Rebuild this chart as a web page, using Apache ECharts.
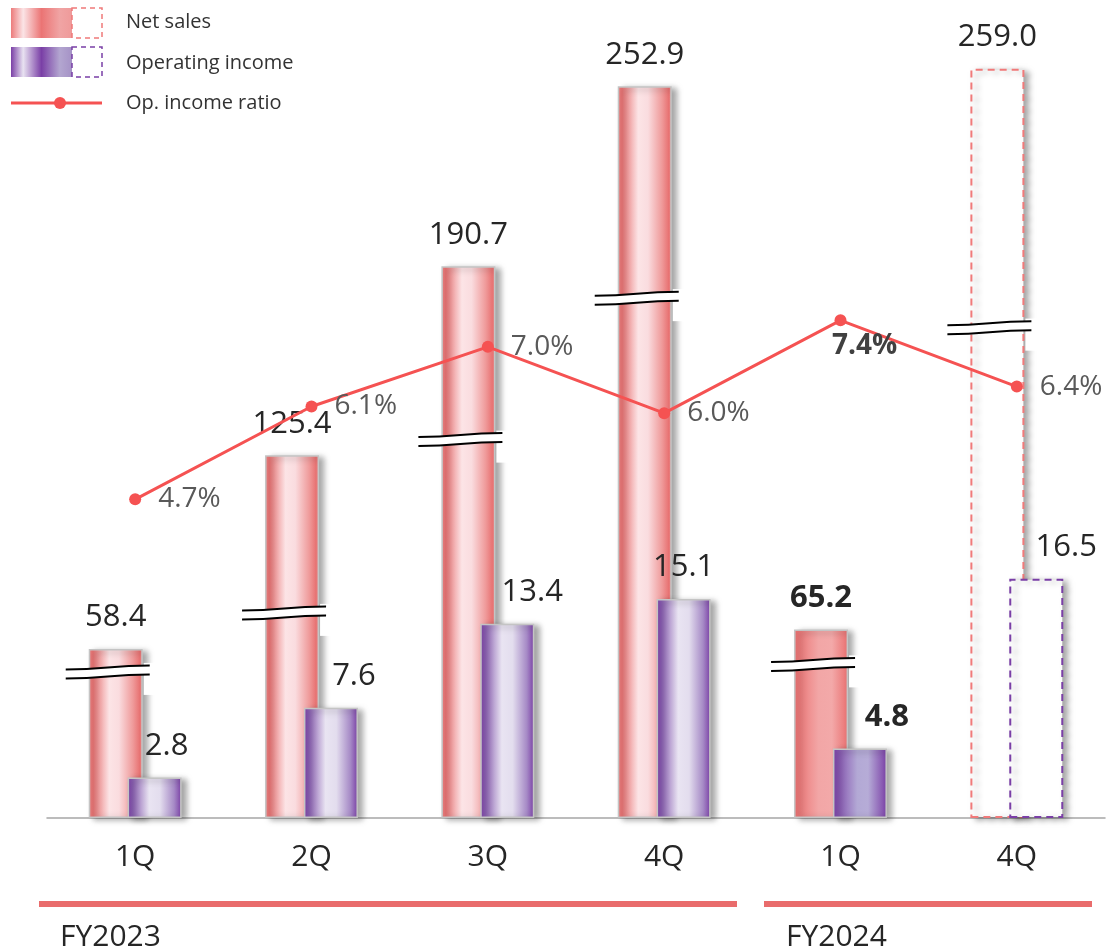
<!DOCTYPE html>
<html><head><meta charset="utf-8">
<script src="https://cdn.jsdelivr.net/npm/echarts@6/dist/echarts.min.js"></script>
<style>html,body{margin:0;padding:0;background:#fff}#c{width:1107px;height:950px}</style>
</head><body><div id="c"></div>
<script>
var categories = ['1Q', '2Q', '3Q', '4Q', '1Q', '4Q'];
var netSales = [58.4, 125.4, 190.7, 252.9, 65.2, 259.0];
var opIncome = [2.8, 7.6, 13.4, 15.1, 4.8, 16.5];
var opRatio = [4.7, 6.1, 7.0, 6.0, 7.4, 6.4];
var breakAt = [50.5, 70.9, 130.8, 179.7, 53.1, 169.5]; // axis-break marks, in net sales units
var kind = ['actual', 'actual', 'actual', 'actual', 'current', 'forecast'];
var opLabelShift = [12, 23, 25, 0, 27, 30];
var groups = ['FY2023', 'FY2024'];

var FONT = '"Open Sans", "Noto Sans", sans-serif';
function hgrad(stops) {
  return new echarts.graphic.LinearGradient(0, 0, 1, 0, stops.map(function (s) { return { offset: s[0], color: s[1] }; }));
}
var nsActual = hgrad([[0, '#ec8282'], [0.08, '#e87474'], [0.38, '#fce4e6'], [0.56, '#fadcdf'], [0.82, '#ef9a9a'], [0.94, '#e87474'], [1, '#ec8888']]);
var nsCurrent = hgrad([[0, '#ea6e6e'], [0.45, '#f2a6a6'], [0.7, '#f3a9a9'], [1, '#e97070']]);
var oiActual = hgrad([[0, '#7a3fa6'], [0.1, '#8c62b3'], [0.4, '#e9e4f2'], [0.6, '#e3ddee'], [0.86, '#a68ac6'], [1, '#7a3fa6']]);
var oiCurrent = hgrad([[0, '#7a3fa6'], [0.45, '#b3a9d5'], [0.65, '#b6acd7'], [1, '#7a3fa6']]);

var shadow = { shadowColor: 'rgba(0,0,0,0.35)', shadowBlur: 6, shadowOffsetX: 5, shadowOffsetY: 2 };
function barStyle(fill, k, dashColor) {
  if (k === 'forecast') {
    return Object.assign({ color: '#ffffff', borderColor: dashColor, borderWidth: 2, borderType: [7, 5] }, shadow);
  }
  return Object.assign({ color: fill, borderColor: '#c4c4c4', borderWidth: 1.5 }, shadow);
}

var nsData = netSales.map(function (v, i) {
  return {
    value: v,
    itemStyle: barStyle(kind[i] === 'current' ? nsCurrent : nsActual, kind[i], '#f07a7a'),
    label: { fontWeight: kind[i] === 'current' ? 'bold' : 'normal' }
  };
});
var oiData = opIncome.map(function (v, i) {
  return {
    value: v,
    itemStyle: barStyle(kind[i] === 'current' ? oiCurrent : oiActual, kind[i], '#7a3fa6'),
    label: { fontWeight: kind[i] === 'current' ? 'bold' : 'normal', offset: [opLabelShift[i], 0] }
  };
});
var ratioData = opRatio.map(function (v, i) {
  var d = { value: v };
  if (kind[i] === 'current') {
    d.label = { position: 'bottom', distance: 6, offset: [24, 0], fontWeight: 'bold', color: '#404040' };
  }
  return d;
});
var breakData = breakAt.map(function (v, i) { return [i, v]; });

var BAR_W = 54, BAR_GAP = -0.28;
var nsOffset = (BAR_W + BAR_W * BAR_GAP) / 2;

var chart = echarts.init(document.getElementById('c'), null, { renderer: 'canvas' });
chart.setOption({
  animation: false,
  textStyle: { fontFamily: FONT },
  grid: { left: 47, right: 2, top: 10, bottom: 132 },
  xAxis: {
    type: 'category', data: categories,
    axisLine: { lineStyle: { color: '#a6a6a6', width: 1.5 } },
    axisTick: { show: false },
    axisLabel: { fontSize: 30, color: '#262626', margin: 24, fontFamily: FONT }
  },
  yAxis: [
    { type: 'value', min: 0, max: 279.3, show: false },
    { type: 'value', min: 0, max: 55.72, show: false },
    { type: 'value', min: -0.106, max: 12.08, show: false }
  ],
  series: [
    {
      name: 'Net sales', type: 'bar', yAxisIndex: 0, data: nsData, barWidth: BAR_W, barGap: (BAR_GAP * 100) + '%', z: 2,
      label: { show: true, position: 'top', distance: 16, fontSize: 31, color: '#262626', fontFamily: FONT, formatter: function (p) { return p.value.toFixed(1); } }
    },
    {
      name: 'Operating income', type: 'bar', yAxisIndex: 1, data: oiData, barWidth: BAR_W, z: 2,
      label: { show: true, position: 'top', distance: 16, fontSize: 31, color: '#262626', fontFamily: FONT, formatter: function (p) { return p.value.toFixed(1); } }
    },
    {
      name: 'breaks', type: 'custom', yAxisIndex: 0, data: breakData, z: 3, silent: true,
      renderItem: function (params, api) {
        var p = api.coord([api.value(0), api.value(1)]);
        var cx = p[0] - nsOffset;
        var y = p[1];
        var x0 = cx - 50, x1 = cx + 34, xm = (x0 + x1) / 2;
        var band = 'M' + x0 + ',' + (y - 2.5) + ' C' + xm + ',' + (y - 2.5) + ' ' + xm + ',' + (y - 6.5) + ' ' + x1 + ',' + (y - 6.5) +
          ' L' + x1 + ',' + (y + 2.5) + ' C' + xm + ',' + (y + 2.5) + ' ' + xm + ',' + (y + 6.5) + ' ' + x0 + ',' + (y + 6.5) + ' Z';
        var top = 'M' + x0 + ',' + (y - 2.5) + ' C' + xm + ',' + (y - 2.5) + ' ' + xm + ',' + (y - 6.5) + ' ' + x1 + ',' + (y - 6.5);
        var bot = 'M' + x0 + ',' + (y + 6.5) + ' C' + xm + ',' + (y + 6.5) + ' ' + xm + ',' + (y + 2.5) + ' ' + x1 + ',' + (y + 2.5);
        return {
          type: 'group', children: [
            { type: 'rect', shape: { x: cx + BAR_W / 2 + 1, y: y - 9, width: 12, height: 32 }, style: { fill: '#ffffff' } },
            { type: 'path', shape: { pathData: band }, style: { fill: '#ffffff', stroke: null } },
            { type: 'path', shape: { pathData: top }, style: { fill: null, stroke: '#000', lineWidth: 2 } },
            { type: 'path', shape: { pathData: bot }, style: { fill: null, stroke: '#000', lineWidth: 2 } }
          ]
        };
      }
    },
    {
      name: 'Op. income ratio', type: 'line', yAxisIndex: 2, data: ratioData, z: 4,
      symbol: 'circle', symbolSize: 12,
      lineStyle: { color: '#f55252', width: 3 },
      itemStyle: { color: '#f55252' },
      label: { show: true, position: 'right', distance: 17, fontSize: 28, color: '#595959', fontFamily: FONT, formatter: function (p) { return p.value.toFixed(1) + '%'; } }
    }
  ],
  graphic: [
    { type: 'rect', shape: { x: 11, y: 8, width: 61, height: 30 }, style: { fill: hgrad([[0, '#ec7b7b'], [0.2, '#fbe4e6'], [0.5, '#eb7474'], [0.8, '#f0a4a4'], [1, '#ef9a9a']]) } },
    { type: 'rect', shape: { x: 72, y: 8, width: 30, height: 30 }, style: { fill: null, stroke: '#f07a7a', lineWidth: 1.5, lineDash: [5, 4] } },
    { type: 'rect', shape: { x: 11, y: 47, width: 61, height: 30 }, style: { fill: hgrad([[0, '#7a3fa6'], [0.2, '#e8e2f1'], [0.5, '#7a3fa6'], [0.8, '#b3a6d0'], [1, '#a592c6']]) } },
    { type: 'rect', shape: { x: 72, y: 47, width: 30, height: 30 }, style: { fill: null, stroke: '#7a3fa6', lineWidth: 1.5, lineDash: [5, 4] } },
    { type: 'line', shape: { x1: 11, y1: 103, x2: 102, y2: 103 }, style: { stroke: '#f55252', lineWidth: 3 } },
    { type: 'circle', shape: { cx: 60, cy: 103, r: 6 }, style: { fill: '#f55252' } },
    { type: 'text', x: 126, y: 22, style: { text: 'Net sales', font: '20px ' + FONT, fill: '#333', verticalAlign: 'middle' } },
    { type: 'text', x: 126, y: 63, style: { text: 'Operating income', font: '20px ' + FONT, fill: '#333', verticalAlign: 'middle' } },
    { type: 'text', x: 126, y: 103, style: { text: 'Op. income ratio', font: '20px ' + FONT, fill: '#333', verticalAlign: 'middle' } },
    { type: 'rect', shape: { x: 39, y: 901, width: 698, height: 6 }, style: { fill: '#e96c6c' } },
    { type: 'rect', shape: { x: 764, y: 901, width: 328, height: 6 }, style: { fill: '#e96c6c' } },
    { type: 'text', x: 60, y: 937, style: { text: groups[0], font: '30px ' + FONT, fill: '#262626', verticalAlign: 'middle' } },
    { type: 'text', x: 786, y: 937, style: { text: groups[1], font: '30px ' + FONT, fill: '#262626', verticalAlign: 'middle' } }
  ]
});
</script></body></html>
